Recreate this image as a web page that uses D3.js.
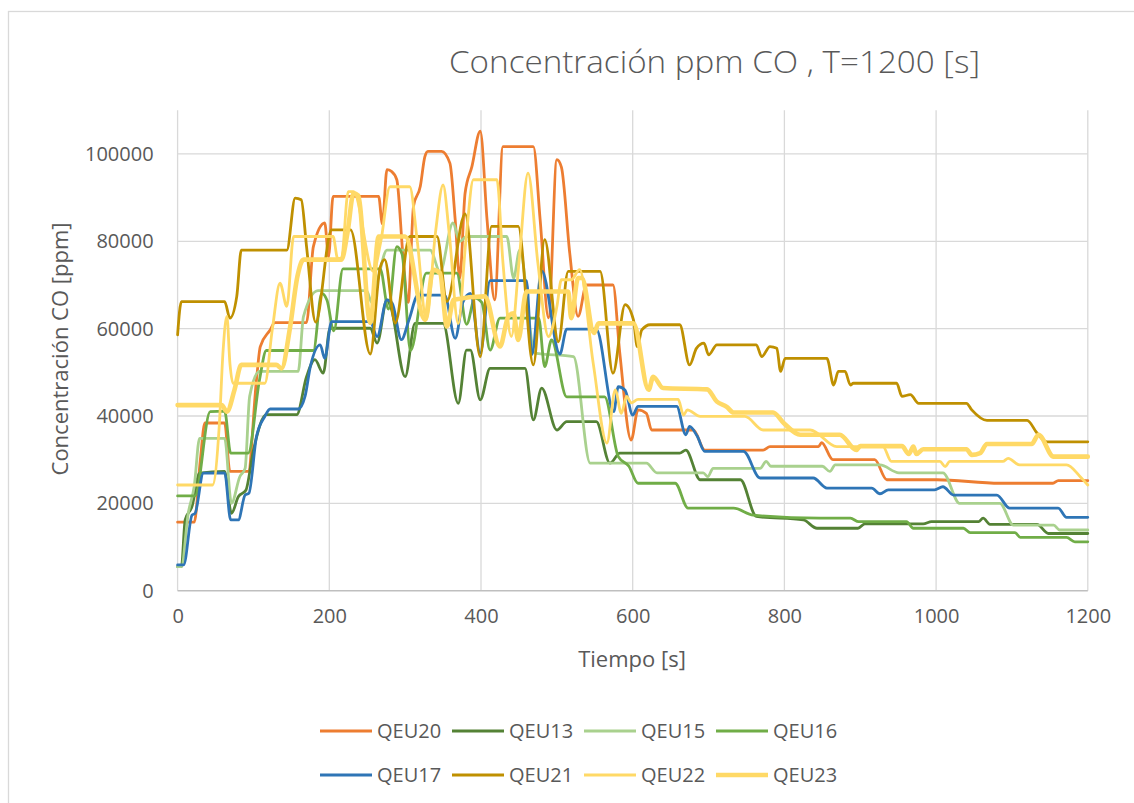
<!DOCTYPE html>
<html>
<head>
<meta charset="utf-8">
<script src="https://cdn.jsdelivr.net/npm/d3@7/dist/d3.min.js"></script>
<style>
  html, body { margin: 0; padding: 0; background: #fff; }
  svg { display: block; font-family: "Open Sans", "Noto Sans", sans-serif; }
</style>
</head>
<body>
<svg id="chart" width="1134" height="803"></svg>
<script>
// ---------- DATA ----------
const chartTitle = "Concentración ppm CO , T=1200 [s]";
const xTitle = "Tiempo [s]";
const yTitle = "Concentración CO [ppm]";
const xTicks = [0, 200, 400, 600, 800, 1000, 1200];
const yTicks = [0, 20000, 40000, 60000, 80000, 100000];
const seriesNames = ["QEU20", "QEU13", "QEU15", "QEU16", "QEU17", "QEU21", "QEU22", "QEU23"];

const qeu20 = [[0,15700],[22,15700],[30,30000],[36,38400],[62,38400],[69,27300],[93,27300],[104,48300],[109,55900],[122,59700],[128,61400],[170,61400],[179,78800],[194,84200],[199,76500],[205,90300],[265,90300],[270,84000],[276,96400],[282,96000],[289,94100],[297,77000],[304,66000],[311,88000],[320,92600],[326,99400],[330,100600],[348,100600],[359,97900],[366,84900],[372,71500],[379,91000],[388,97100],[399,105200],[408,84900],[418,66600],[429,101700],[469,101700],[478,84900],[489,62500],[500,98700],[506,97000],[517,77300],[528,62800],[539,70000],[574,70000],[583,54400],[598,34500],[607,41400],[618,40600],[625,36800],[680,36800],[695,32200],[772,32200],[781,33000],[845,33000],[849,33900],[864,30000],[919,30000],[935,25400],[1001,25400],[1084,24600],[1154,24600],[1161,25200],[1200,25200]];
const qeu13 = [[0,5500],[5,5500],[10,16200],[19,19300],[29,26900],[62,27300],[71,17700],[80,21500],[90,23000],[100,32200],[117,40300],[157,40300],[170,49000],[181,52900],[192,49800],[201,60100],[254,60100],[263,56700],[276,66600],[281,65000],[300,49000],[313,61200],[350,61200],[370,42900],[381,55100],[386,55100],[399,43700],[412,50900],[458,50900],[469,39100],[480,46400],[500,36800],[513,38700],[552,38700],[570,29200],[583,31500],[662,31500],[670,32200],[689,25400],[742,25400],[763,17000],[825,16200],[843,14300],[897,14300],[906,15300],[983,15300],[994,15800],[1056,15800],[1062,16600],[1071,15200],[1133,15200],[1148,13100],[1200,13100]];
const qeu15 = [[0,5500],[5,5500],[14,17700],[22,24000],[29,34900],[62,34900],[71,20000],[82,26100],[89,28000],[95,44500],[108,50200],[159,50200],[166,62800],[185,68700],[249,68700],[256,66000],[265,72000],[276,78000],[333,78000],[346,73000],[363,84200],[372,80000],[381,81100],[434,81100],[443,71600],[451,78000],[471,54400],[522,53600],[544,29200],[618,29200],[632,27000],[693,27000],[699,26100],[706,28000],[768,28000],[776,29600],[782,28500],[850,28500],[860,27300],[867,28800],[926,28800],[951,27000],[1009,27000],[1031,20000],[1084,20000],[1102,15000],[1155,15000],[1163,13900],[1200,13900]];
const qeu16 = [[0,21700],[23,21700],[43,41000],[62,41100],[70,31500],[93,31500],[108,48300],[117,55000],[179,55000],[190,68100],[197,66500],[206,59500],[218,73700],[267,73700],[278,64500],[289,78800],[296,77000],[307,55000],[328,72700],[368,72700],[381,61000],[392,67000],[401,66000],[412,55100],[425,62400],[476,62400],[484,51300],[493,57400],[513,44400],[563,44400],[581,30700],[595,28500],[607,24600],[656,24600],[673,18900],[733,18900],[759,17300],[847,16600],[887,16600],[898,15800],[961,15800],[970,14300],[1036,14300],[1045,13300],[1104,13300],[1111,12200],[1172,12200],[1183,11200],[1200,11200]];
const qeu17 = [[0,5900],[8,5900],[19,17300],[23,17700],[34,26900],[62,27000],[70,16200],[80,16200],[89,21900],[94,22300],[104,35300],[115,39900],[122,41600],[159,41600],[168,44500],[175,51300],[188,56300],[194,53200],[203,61600],[254,61600],[263,58200],[276,66600],[283,65800],[295,57500],[305,62000],[317,67700],[352,67700],[366,57800],[376,66000],[386,68100],[399,54400],[412,71000],[460,71000],[467,54000],[480,73300],[504,54200],[513,59900],[552,59900],[575,41000],[581,46700],[590,45900],[600,40200],[607,42200],[658,42200],[670,35700],[675,37600],[685,35400],[695,31900],[746,31900],[768,25800],[838,25800],[856,23500],[915,23500],[926,22200],[937,23100],[998,23100],[1009,23800],[1023,21900],[1080,21900],[1097,18900],[1161,18900],[1172,16800],[1200,16800]];
const qeu21 = [[0,58600],[5,66200],[62,66200],[69,62400],[78,67400],[84,78000],[144,78000],[155,89900],[163,89500],[170,78800],[182,61500],[203,82600],[228,82600],[254,54200],[267,74000],[273,75800],[287,61300],[306,81100],[342,81100],[355,66200],[379,86300],[399,53600],[414,83400],[449,83400],[469,51700],[484,80400],[502,57000],[515,73100],[557,73100],[574,49800],[590,65500],[601,62000],[606,55900],[612,59700],[623,60900],[662,60900],[675,51700],[684,55500],[694,56700],[700,54000],[711,56300],[763,56300],[770,53600],[781,55900],[790,55500],[795,50200],[801,53200],[856,53200],[865,47100],[871,50200],[880,50200],[887,47100],[891,47500],[948,47500],[955,44500],[966,44900],[977,42900],[1040,42900],[1047,41400],[1067,39000],[1120,39000],[1133,36100],[1146,34100],[1200,34100]];
const qeu22 = [[0,24200],[46,24200],[55,38000],[60,55000],[65,62800],[69,52000],[73,47500],[115,47500],[125,60000],[135,70400],[144,65100],[153,81100],[205,81100],[211,76100],[216,76100],[225,91400],[232,91400],[258,73100],[268,80000],[280,92500],[306,92500],[316,80000],[328,62000],[340,82000],[350,92900],[358,82000],[370,61200],[380,80000],[390,94100],[421,94100],[429,75000],[440,58200],[450,75000],[462,95600],[475,75000],[489,58200],[500,65000],[506,71200],[519,71200],[530,73500],[548,52000],[566,33800],[577,46000],[585,40600],[592,44500],[598,43000],[607,43800],[660,43800],[667,40200],[672,41400],[689,39900],[748,39900],[772,36800],[834,36800],[869,33000],[930,33000],[941,29600],[1005,29600],[1012,28400],[1018,29600],[1088,29600],[1095,30300],[1110,28800],[1172,28800],[1190,26100],[1200,24200]];
const qeu23 = [[0,42500],[58,42500],[65,41000],[75,46000],[84,51700],[130,51700],[137,50900],[148,60000],[158,72000],[166,75800],[216,75800],[224,82000],[232,91000],[238,90500],[254,61300],[265,81100],[300,81100],[326,62000],[337,73500],[346,72700],[355,60500],[364,66600],[405,67400],[425,55900],[436,62800],[443,63500],[449,57400],[460,68500],[515,68500],[519,62400],[528,71600],[533,71600],[549,59000],[555,61200],[601,61200],[621,46000],[627,49000],[640,46400],[698,46100],[711,43300],[724,42100],[733,40800],[785,40800],[799,38400],[821,35700],[873,35700],[895,32200],[900,33100],[955,33100],[964,31300],[970,33000],[974,31300],[983,32400],[1040,32400],[1047,31100],[1058,31500],[1067,33600],[1126,33600],[1135,35700],[1155,30700],[1200,30700]];

const seriesData = [qeu20, qeu13, qeu15, qeu16, qeu17, qeu21, qeu22, qeu23];
const seriesColors = ["#ED7D31", "#548235", "#A9D18E", "#70AD47", "#2E75B6", "#BF9000", "#FFD966", "#FFD966"];
const seriesWidths = [2.8, 2.8, 2.8, 2.8, 2.8, 2.8, 2.8, 4.6];

// ---------- LAYOUT ----------
const svg = d3.select("#chart");
const plotL = 177.6, plotR = 1087.8, plotT = 110.3, plotB = 590.7;
const x = d3.scaleLinear().domain([0, 1200]).range([plotL, plotR]);
const y = d3.scaleLinear().domain([0, 110000]).range([plotB, plotT]);
const textColor = "#595959";

// chart border
svg.append("rect").attr("x", 8.5).attr("y", 11.5).attr("width", 1200).attr("height", 900)
  .attr("fill", "#fff").attr("stroke", "#D9D9D9").attr("stroke-width", 1.3);

// gridlines
svg.append("g").selectAll("line").data(yTicks.filter(d => d > 0)).join("line")
  .attr("x1", plotL).attr("x2", plotR).attr("y1", d => y(d)).attr("y2", d => y(d))
  .attr("stroke", "#D9D9D9").attr("stroke-width", 1.3);
svg.append("g").selectAll("line").data(xTicks).join("line")
  .attr("x1", d => x(d)).attr("x2", d => x(d)).attr("y1", plotT).attr("y2", plotB)
  .attr("stroke", "#D9D9D9").attr("stroke-width", 1.3);
// x axis line
svg.append("line").attr("x1", plotL).attr("x2", plotR).attr("y1", plotB).attr("y2", plotB)
  .attr("stroke", "#BFBFBF").attr("stroke-width", 1.5);

// axes via d3 (text only)
const yAxis = d3.axisLeft(y).tickValues(yTicks).tickFormat(d3.format("d")).tickSize(0).tickPadding(24);
const gy = svg.append("g").attr("transform", `translate(${plotL},0)`).call(yAxis);
gy.select(".domain").remove();
gy.selectAll("text").attr("fill", textColor).style("font-size", "20px").style("font-family", '"Open Sans", sans-serif');

const xAxis = d3.axisBottom(x).tickValues(xTicks).tickFormat(d3.format("d")).tickSize(0).tickPadding(18);
const gx = svg.append("g").attr("transform", `translate(0,${plotB})`).call(xAxis);
gx.select(".domain").remove();
gx.selectAll("text").attr("fill", textColor).style("font-size", "20px").style("font-family", '"Open Sans", sans-serif');

// series
const line = d3.line().x(d => x(d[0])).y(d => y(d[1])).curve(d3.curveMonotoneX);
seriesData.forEach((data, i) => {
  svg.append("path").datum(data).attr("d", line)
    .attr("fill", "none").attr("stroke", seriesColors[i]).attr("stroke-width", seriesWidths[i])
    .attr("stroke-linejoin", "round").attr("stroke-linecap", "round");
});

// titles
svg.append("text").attr("x", 714.5).attr("y", 73).attr("text-anchor", "middle")
  .attr("fill", textColor).style("font-size", "31px").style("font-weight", 300)
  .attr("textLength", 531).attr("lengthAdjust", "spacingAndGlyphs").text(chartTitle);
svg.append("text").attr("x", 632).attr("y", 667).attr("text-anchor", "middle")
  .attr("fill", textColor).style("font-size", "22px").text(xTitle);
svg.append("text").attr("transform", "translate(68,349) rotate(-90)").attr("text-anchor", "middle")
  .attr("fill", textColor).style("font-size", "22px").text(yTitle);

// legend
const legendX = [320, 452, 584, 716];
const legendY = [731, 775];
const legend = svg.append("g");
seriesNames.forEach((name, i) => {
  const lx = legendX[i % 4], ly = legendY[Math.floor(i / 4)];
  legend.append("line").attr("x1", lx).attr("x2", lx + 52).attr("y1", ly).attr("y2", ly)
    .attr("stroke", seriesColors[i]).attr("stroke-width", seriesWidths[i]);
  legend.append("text").attr("x", lx + 57).attr("y", ly).attr("dy", "0.35em")
    .attr("fill", textColor).style("font-size", "20px").text(name);
});
</script>
</body>
</html>
